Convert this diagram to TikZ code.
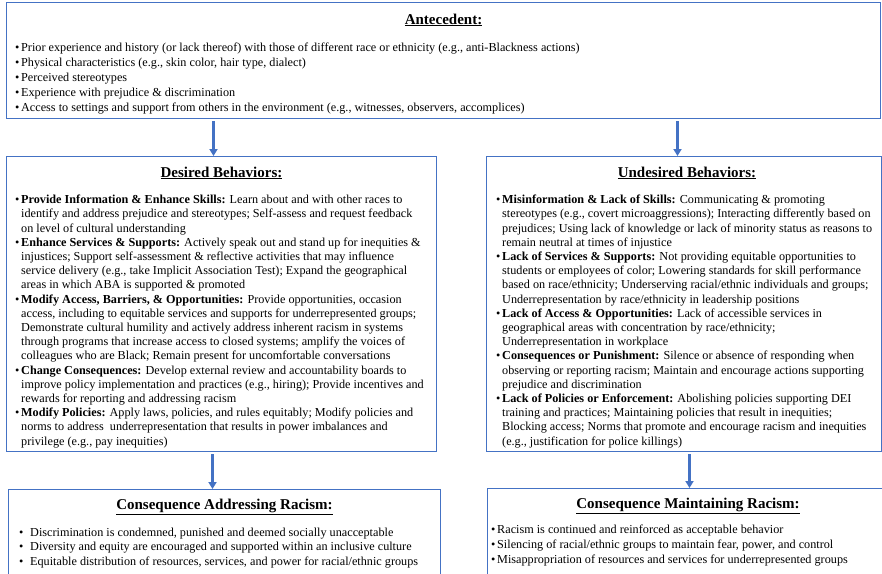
\documentclass[tikz,border=0pt]{standalone}
\usepackage{fontspec}
\setmainfont{Liberation Serif}
\usetikzlibrary{arrows.meta,positioning,calc}
\definecolor{boxblue}{HTML}{4472C4}
\newcommand{\bul}{\makebox[6pt][l]{\textbullet}}
\newcommand{\ind}{\hspace*{6pt}}
\newcommand{\wbul}{\makebox[11pt][l]{\textbullet}}

\begin{document}
\begin{tikzpicture}[
  x=1pt, y=1pt,
  panel/.style={
    draw=boxblue,
    line width=1pt,
    anchor=north west,
    inner sep=0pt
  },
  heading/.style={
    anchor=base,
    inner sep=0pt,
    font=\fontsize{15}{18}\selectfont\bfseries
  },
  body/.style={
    anchor=base west,
    align=left,
    inner sep=0pt,
    font=\fontsize{12.2}{14.2}\selectfont
  },
  flow/.style={-{Triangle[width=8pt,length=7pt]},draw=boxblue,line width=3pt,shorten <=2pt}
]
\useasboundingbox (0,0) rectangle (882,-573);
\clip (0,0) rectangle (882,-573);

% boxes
\node[panel,minimum width=874pt,minimum height=116pt] (ante) at (6,-2) {};
\node[panel,minimum width=430pt,minimum height=295pt] (desired) at (6,-156) {};
\node[panel,minimum width=395pt,minimum height=295pt] (undesired) at (486,-156) {};
\node[panel,minimum width=432pt,minimum height=100pt] (addressing) at (8,-489) {};
\node[panel,minimum width=395pt,minimum height=100pt] (maintaining) at (487,-488) {};

% headings
\node[heading] (antetitle) at ([yshift=-22pt]ante.north) {\underline{Antecedent:}};
\node[heading] (destitle) at ([yshift=-21pt]desired.north) {\underline{Desired Behaviors:}};
\node[heading] (undestitle) at ([xshift=3pt,yshift=-21pt]undesired.north) {\underline{Undesired Behaviors:}};
\node[heading] (addtitle) at ([yshift=-20pt]addressing.north) {\underline{Consequence Addressing Racism:}};
\node[heading] (maintitle) at ([xshift=3pt,yshift=-20pt]maintaining.north) {\underline{Consequence Maintaining Racism:}};

% texts (base = last line)
\node[body,font=\fontsize{12.2}{15}\selectfont] (antetext) at (15,-111) {
  \bul Prior experience and history (or lack thereof) with those of different race or ethnicity (e.g., anti-Blackness actions)\\
  \bul Physical characteristics (e.g., skin color, hair type, dialect)\\
  \bul Perceived stereotypes\\
  \bul Experience with prejudice \& discrimination\\
  \bul Access to settings and support from others in the environment (e.g., witnesses, observers, accomplices)
};
\node[body] (destext) at (15,-445) {
  \bul\textbf{Provide Information \& Enhance Skills:} Learn about and with other races to\\
  \ind identify and address prejudice and stereotypes; Self-assess and request feedback\\
  \ind on level of cultural understanding\\
  \bul\textbf{Enhance Services \& Supports:} Actively speak out and stand up for inequities \&\\
  \ind injustices; Support self-assessment \& reflective activities that may influence\\
  \ind service delivery (e.g., take Implicit Association Test); Expand the geographical\\
  \ind areas in which ABA is supported \& promoted\\
  \bul\textbf{Modify Access, Barriers, \& Opportunities:} Provide opportunities, occasion\\
  \ind access, including to equitable services and supports for underrepresented groups;\\
  \ind Demonstrate cultural humility and actively address inherent racism in systems\\
  \ind through programs that increase access to closed systems; amplify the voices of\\
  \ind colleagues who are Black; Remain present for uncomfortable conversations\\
  \bul\textbf{Change Consequences:} Develop external review and accountability boards to\\
  \ind improve policy implementation and practices (e.g., hiring); Provide incentives and\\
  \ind rewards for reporting and addressing racism\\
  \bul\textbf{Modify Policies:} Apply laws, policies, and rules equitably; Modify policies and\\
  \ind norms to address\ \ underrepresentation that results in power imbalances and\\
  \ind privilege (e.g., pay inequities)
};
\node[body] (undestext) at (496,-445) {
  \bul\textbf{Misinformation \& Lack of Skills:} Communicating \& promoting\\
  \ind stereotypes (e.g., covert microaggressions); Interacting differently based on\\
  \ind prejudices; Using lack of knowledge or lack of minority status as reasons to\\
  \ind remain neutral at times of injustice\\
  \bul\textbf{Lack of Services \& Supports:} Not providing equitable opportunities to\\
  \ind students or employees of color; Lowering standards for skill performance\\
  \ind based on race/ethnicity; Underserving racial/ethnic individuals and groups;\\
  \ind Underrepresentation by race/ethnicity in leadership positions\\
  \bul\textbf{Lack of Access \& Opportunities:} Lack of accessible services in\\
  \ind geographical areas with concentration by race/ethnicity;\\
  \ind Underrepresentation in workplace\\
  \bul\textbf{Consequences or Punishment:} Silence or absence of responding when\\
  \ind observing or reporting racism; Maintain and encourage actions supporting\\
  \ind prejudice and discrimination\\
  \bul\textbf{Lack of Policies or Enforcement:} Abolishing policies supporting DEI\\
  \ind training and practices; Maintaining policies that result in inequities;\\
  \ind Blocking access; Norms that promote and encourage racism and inequities\\
  \ind (e.g., justification for police killings)
};
\node[body,font=\fontsize{12.2}{14.5}\selectfont] (addtext) at (19,-565) {
  \wbul Discrimination is condemned, punished and deemed socially unacceptable\\
  \wbul Diversity and equity are encouraged and supported within an inclusive culture\\
  \wbul Equitable distribution of resources, services, and power for racial/ethnic groups
};
\node[body,font=\fontsize{12.2}{15}\selectfont] (maintext) at (491,-563) {
  \bul Racism is continued and reinforced as acceptable behavior\\
  \bul Silencing of racial/ethnic groups to maintain fear, power, and control\\
  \bul Misappropriation of resources and services for underrepresented groups
};

% arrows
\draw[flow] ([xshift=-8pt]desired.north |- ante.south) -- ([xshift=-8pt]desired.north);
\draw[flow] ([xshift=-6.5pt]undesired.north |- ante.south) -- ([xshift=-6.5pt]undesired.north);
\draw[flow] ([xshift=-9pt]desired.south) -- ([xshift=-9pt]desired.south |- addressing.north);
\draw[flow] ([xshift=5.5pt]undesired.south) -- ([xshift=5.5pt]undesired.south |- maintaining.north);
\end{tikzpicture}
\end{document}
